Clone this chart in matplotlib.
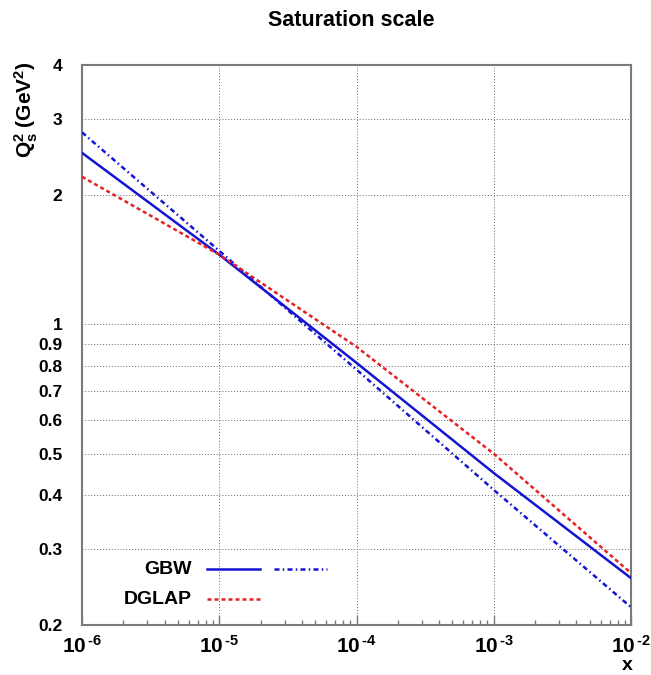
import matplotlib
matplotlib.use('Agg')
import matplotlib.pyplot as plt
from matplotlib.lines import Line2D
from matplotlib.ticker import FixedLocator, NullLocator, LogLocator, NullFormatter

# ---- data ----
x_vals = [1e-6, 1e-5, 1e-4, 1e-3, 1e-2]
gbw_solid = [2.50, 1.45, 0.813, 0.451, 0.257]
gbw_dashdot = [2.79, 1.48, 0.784, 0.412, 0.220]
dglap = [2.20, 1.45, 0.886, 0.50, 0.264]

x_ticks = [1e-6, 1e-5, 1e-4, 1e-3, 1e-2]
x_tick_labels = [r'$\mathbf{10^{\,\text{-}6}}$', r'$\mathbf{10^{\,\text{-}5}}$',
                 r'$\mathbf{10^{\,\text{-}4}}$', r'$\mathbf{10^{\,\text{-}3}}$',
                 r'$\mathbf{10^{\,\text{-}2}}$']
y_ticks = [0.2, 0.3, 0.4, 0.5, 0.6, 0.7, 0.8, 0.9, 1, 2, 3, 4]
y_tick_labels = ['0.2', '0.3', '0.4', '0.5', '0.6', '0.7', '0.8', '0.9', '1', '2', '3', '4']

plt.rcParams['font.family'] = ['Liberation Sans', 'DejaVu Sans']
plt.rcParams['font.weight'] = 'bold'
plt.rcParams['mathtext.fontset'] = 'custom'
plt.rcParams['mathtext.rm'] = 'Liberation Sans:bold'
plt.rcParams['mathtext.bf'] = 'Liberation Sans:bold'
plt.rcParams['mathtext.it'] = 'Liberation Sans:bold'
plt.rcParams['mathtext.default'] = 'bf'

W, H = 651, 675
fig = plt.figure(figsize=(W / 100, H / 100), dpi=100)
L, R, T, B = 82, 631, 65, 625
ax = fig.add_axes([L / W, 1 - B / H, (R - L) / W, (B - T) / H])

blue = '#1414d2'
red = '#e52222'
lw = 1.8

ax.plot(x_vals, gbw_solid, color=blue, lw=lw, ls='-', zorder=3)
ax.plot(x_vals, gbw_dashdot, color=blue, lw=lw, ls=(0, (2.0, 1.3, 0.6, 1.3)), zorder=3)
ax.plot(x_vals, dglap, color=red, lw=lw, ls=(0, (1.6, 1.2)), zorder=3)

ax.set_xscale('log')
ax.set_yscale('log')
ax.set_xlim(1e-6, 1e-2)
ax.set_ylim(0.2, 4)

ax.xaxis.set_major_locator(FixedLocator(x_ticks))
ax.set_xticklabels(x_tick_labels)
ax.xaxis.set_minor_locator(LogLocator(base=10, subs=[2, 3, 4, 5, 6, 7, 8, 9], numticks=20))
ax.xaxis.set_minor_formatter(NullFormatter())
ax.yaxis.set_major_locator(FixedLocator(y_ticks))
ax.set_yticklabels(y_tick_labels)
ax.yaxis.set_minor_locator(NullLocator())

ax.tick_params(axis='x', which='major', direction='in', length=7, width=1, color='#777777',
               labelsize=15, pad=7)
ax.tick_params(axis='x', which='minor', direction='in', length=3.5, width=1, color='#777777')
ax.tick_params(axis='y', which='major', direction='in', length=0, labelsize=12.5, pad=14)

ax.grid(True, which='major', axis='both', color='#666666', lw=0.7, ls=(0, (1, 2)))
for s in ax.spines.values():
    s.set_color('#7a7a7a')
    s.set_linewidth(1.5)

# title and axis labels
fig.text(351 / W, 1 - 20 / H, 'Saturation scale', ha='center', va='center',
         fontsize=15.5, fontweight='bold')
fig.text(26 / W, 1 - 62 / H, r'$\mathbf{Q_s^2}$ (GeV$^\mathbf{2}$)', rotation=90,
         ha='center', va='top', fontsize=15, fontweight='bold')
fig.text(627 / W, 0.5 / H, 'x', ha='center', va='bottom', fontsize=14, fontweight='bold')

# legend
def px2ax(px, py):
    return ((px - L) / (R - L), (B - py) / (B - T))

for label, py in [('GBW', 569), ('DGLAP', 599)]:
    tx, ty = px2ax(192, py)
    ax.text(tx, ty, label, transform=ax.transAxes, ha='right', va='center',
            fontsize=14, fontweight='bold')

def leg_line(x0, x1, py, **kw):
    a0 = px2ax(x0, py)
    a1 = px2ax(x1, py)
    ax.add_line(Line2D([a0[0], a1[0]], [a0[1], a1[1]], transform=ax.transAxes, **kw))

leg_line(207, 260, 569, color=blue, lw=lw, ls='-')
leg_line(274, 327, 569, color=blue, lw=lw, ls=(0, (2.0, 1.3, 0.6, 1.3)))
leg_line(207, 260, 599, color=red, lw=lw, ls=(0, (1.6, 1.2)))

fig.savefig('out.png', dpi=100)
